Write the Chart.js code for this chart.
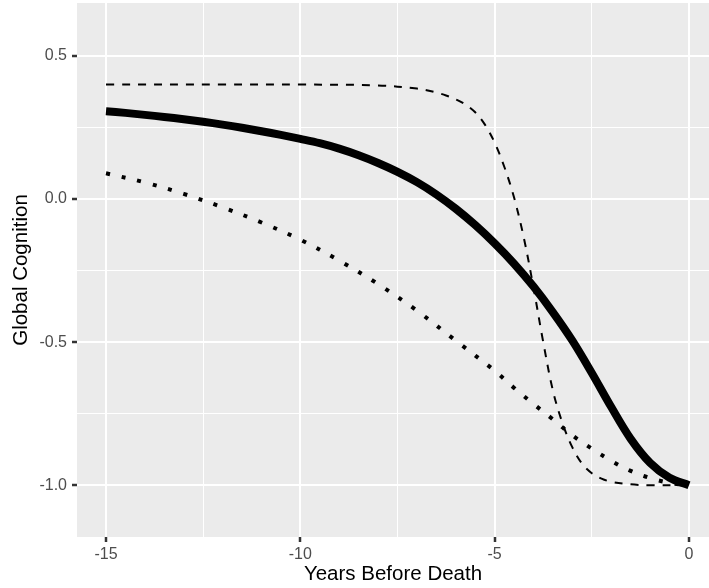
<!DOCTYPE html>
<html>
<head>
<meta charset="utf-8">
<script src="https://cdn.jsdelivr.net/npm/chart.js@4"></script>
<style>
    html, body { margin: 0; padding: 0; background: #ffffff; }
    #wrap { width: 709px; height: 588px; }
</style>
</head>
<body>
<div id="wrap"><canvas id="cognitionChart" width="709" height="588"></canvas></div>
<script>
// Траектории (годы до смерти)
const solidYears = [-15, -14.5, -14, -13.5, -13, -12.5, -12, -11.5, -11, -10.5, -10, -9.5, -9, -8.5, -8, -7.5, -7, -6.5, -6, -5.5, -5, -4.5, -4, -3.5, -3, -2.5, -2, -1.5, -1, -0.5, 0];
const solidValues = [0.307, 0.301, 0.294, 0.287, 0.279, 0.270, 0.260, 0.249, 0.237, 0.224, 0.210, 0.195, 0.176, 0.153, 0.126, 0.095, 0.059, 0.016, -0.034, -0.091, -0.155, -0.226, -0.306, -0.396, -0.495, -0.608, -0.727, -0.838, -0.922, -0.974, -1.0];

const dashedYears = [-15, -12, -10, -8, -7, -6.75, -6.5, -6.25, -6, -5.75, -5.5, -5.25, -5, -4.75, -4.5, -4.25, -4, -3.75, -3.5, -3.25, -3, -2.75, -2.5, -2.25, -2, -1.5, -1, 0];
const dashedValues = [0.4, 0.4, 0.4, 0.397, 0.386, 0.38, 0.372, 0.362, 0.348, 0.33, 0.303, 0.26, 0.197, 0.112, 0.005, -0.135, -0.31, -0.50, -0.67, -0.785, -0.868, -0.925, -0.958, -0.977, -0.988, -0.997, -1.0, -1.0];

const dottedYears = [-15, -14, -13, -12, -11, -10, -9, -8, -7, -6, -5, -4.5, -4, -3.5, -3, -2.5, -2, -1.5, -1, -0.5, 0];
const dottedValues = [0.09, 0.058, 0.018, -0.029, -0.082, -0.142, -0.215, -0.297, -0.39, -0.495, -0.60, -0.66, -0.716, -0.77, -0.826, -0.872, -0.915, -0.95, -0.975, -0.992, -1.0];

const xTicks = [-15, -12.5, -10, -7.5, -5, -2.5, 0];
const yTicks = [-1.0, -0.75, -0.5, -0.25, 0.0, 0.25, 0.5];
const xMajor = [-15, -10, -5, 0];
const yMajor = [-1.0, -0.5, 0.0, 0.5];

const toPoints = (xs, ys) => xs.map((x, i) => ({ x: x, y: ys[i] }));
const isMajor = (list, v) => list.some(m => Math.abs(m - v) < 1e-9);

// серый фон панели как в ggplot
const panelBackground = {
    id: 'panelBackground',
    beforeDraw(chart) {
        const { ctx, chartArea } = chart;
        ctx.save();
        ctx.fillStyle = '#EBEBEB';
        ctx.fillRect(chartArea.left, chartArea.top, chartArea.right - chartArea.left, chartArea.bottom - chartArea.top);
        ctx.restore();
    }
};

const gridFor = (major) => ({
    color: '#FFFFFF',
    lineWidth: ctx => (ctx.tick && isMajor(major, ctx.tick.value)) ? 2 : 1,
    tickColor: ctx => (ctx.tick && isMajor(major, ctx.tick.value)) ? '#333333' : 'rgba(0,0,0,0)',
    tickWidth: 2.5,
    tickLength: 5,
    drawTicks: true
});

// убираем лишние отступы под подписи по краям
const noEdgePadding = scale => {
    scale.paddingTop = 0;
    scale.paddingBottom = 0;
    scale.paddingLeft = 0;
    scale.paddingRight = 0;
};

const lineStyle = {
    borderColor: '#000000',
    borderCapStyle: 'butt',
    borderJoinStyle: 'round',
    tension: 0.35,
    pointRadius: 0
};

const cognitionCtx = document.getElementById('cognitionChart').getContext('2d');
const cognitionChart = new Chart(cognitionCtx, {
    type: 'line',
    data: {
        datasets: [
            {
                ...lineStyle,
                label: 'solid',
                data: toPoints(solidYears, solidValues),
                borderWidth: 8,
                order: 0
            },
            {
                ...lineStyle,
                label: 'dotted',
                data: toPoints(dottedYears, dottedValues),
                borderWidth: 4,
                borderDash: [4, 12],
                order: 1
            },
            {
                ...lineStyle,
                label: 'dashed',
                data: toPoints(dashedYears, dashedValues),
                borderWidth: 2,
                borderDash: [8, 8],
                order: 2
            }
        ]
    },
    options: {
        responsive: false,
        animation: false,
        layout: { padding: { top: 3, right: 0, bottom: 0, left: 0 } },
        plugins: {
            legend: { display: false },
            tooltip: { enabled: false }
        },
        scales: {
            x: {
                type: 'linear',
                min: -15.746,
                max: 0.515,
                afterBuildTicks: scale => { scale.ticks = xTicks.map(v => ({ value: v })); },
                afterFit: scale => { scale.height = 51; noEdgePadding(scale); },
                grid: gridFor(xMajor),
                border: { display: false },
                ticks: {
                    autoSkip: false,
                    maxRotation: 0,
                    padding: 3,
                    color: '#4D4D4D',
                    font: { family: 'Liberation Sans, Arial, sans-serif', size: 16 },
                    callback: v => isMajor(xMajor, v) ? String(v) : ''
                },
                title: {
                    display: true,
                    text: 'Years Before Death',
                    color: '#000000',
                    padding: { top: 0, bottom: 1 },
                    font: { family: 'Liberation Sans, Arial, sans-serif', size: 20.5 }
                }
            },
            y: {
                type: 'linear',
                min: -1.181,
                max: 0.685,
                afterBuildTicks: scale => { scale.ticks = yTicks.map(v => ({ value: v })); },
                afterFit: scale => { scale.width = 77; noEdgePadding(scale); },
                grid: gridFor(yMajor),
                border: { display: false },
                ticks: {
                    autoSkip: false,
                    padding: 5,
                    color: '#4D4D4D',
                    font: { family: 'Liberation Sans, Arial, sans-serif', size: 16 },
                    callback: v => isMajor(yMajor, v) ? v.toFixed(1) : ''
                },
                title: {
                    display: true,
                    text: 'Global Cognition',
                    color: '#000000',
                    padding: { top: 9, bottom: 0 },
                    font: { family: 'Liberation Sans, Arial, sans-serif', size: 20.5 }
                }
            }
        }
    },
    plugins: [panelBackground]
});
</script>
</body>
</html>
